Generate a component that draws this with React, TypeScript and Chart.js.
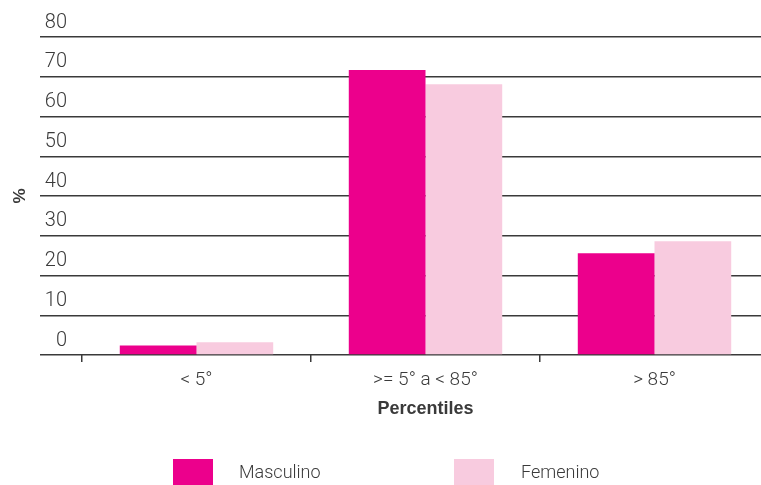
import React, { useEffect, useRef } from "react";
import { Chart, registerables } from "chart.js";

Chart.register(...registerables);

const categories = ["< 5°", ">= 5° a < 85°", "> 85°"];
const masculino = [2.4, 71.7, 25.6];
const femenino = [3.2, 68.1, 28.6];
const seriesNames = ["Masculino", "Femenino"];
const seriesColors = ["#EC008C", "#F8CBDF"];
const yMin = 0;
const yMax = 80;
const yStep = 10;
const xTitle = "Percentiles";
const yTitle = "%";

const LIGHT = "Roboto, 'DejaVu Sans Condensed', sans-serif";
const BOLD = "'Liberation Sans', Arial, sans-serif";
const GRID = "#3a3a3a";
const TEXT = "#3a3a3a";

export default function App() {
  const ref = useRef<HTMLCanvasElement | null>(null);

  useEffect(() => {
    if (!ref.current) return;
    const chart = new Chart(ref.current, {
      type: "bar",
      data: {
        labels: categories,
        datasets: [
          { label: seriesNames[0], data: masculino, backgroundColor: seriesColors[0], borderWidth: 0 },
          { label: seriesNames[1], data: femenino, backgroundColor: seriesColors[1], borderWidth: 0 },
        ],
      },
      options: {
        responsive: false,
        maintainAspectRatio: false,
        animation: false,
        layout: { padding: { top: 37, bottom: 65, left: 0, right: 0 } },
        datasets: { bar: { categoryPercentage: 0.67, barPercentage: 1 } },
        plugins: {
          legend: { display: false },
          tooltip: { enabled: false },
        },
        scales: {
          x: {
            offset: true,
            border: { display: false },
            grid: {
              offset: true,
              drawOnChartArea: false,
              drawTicks: true,
              tickLength: 7,
              color: GRID,
              lineWidth: 1.5,
            },
            ticks: {
              color: TEXT,
              padding: 7,
              font: { family: LIGHT, size: 19, weight: "300" },
              maxRotation: 0,
              autoSkip: false,
            },
            title: {
              display: true,
              text: xTitle,
              color: TEXT,
              padding: 0,
              font: { family: BOLD, size: 18, weight: "bold" },
            },
            afterFit: (s: any) => {
              s.height = 65;
            },
          },
          y: {
            min: yMin,
            max: yMax,
            border: { display: false },
            grid: {
              color: GRID,
              lineWidth: 1.5,
              drawTicks: true,
              tickLength: 42,
            },
            ticks: {
              stepSize: yStep,
              color: TEXT,
              padding: -27,
              labelOffset: -14.5,
              crossAlign: "near",
              font: { family: LIGHT, size: 20, weight: "300" },
            },
            title: {
              display: true,
              text: yTitle,
              color: TEXT,
              padding: { top: 10, bottom: 0 },
              font: { family: BOLD, size: 17, weight: "bold" },
            },
            afterFit: (s: any) => {
              s.width = 82;
            },
          },
        },
      },
    } as any);
    return () => chart.destroy();
  }, []);

  const legendText: React.CSSProperties = {
    position: "absolute",
    top: 459,
    fontFamily: LIGHT,
    fontWeight: 300,
    fontSize: 18,
    lineHeight: "26px",
    color: TEXT,
    whiteSpace: "nowrap",
  };
  const box: React.CSSProperties = { position: "absolute", top: 459, width: 40, height: 30 };

  return (
    <div
      style={{
        position: "fixed",
        left: 0,
        top: 0,
        width: 761,
        height: 485,
        overflow: "hidden",
        background: "#ffffff",
      }}
    >
      <canvas ref={ref} width={769} height={485} style={{ display: "block", width: 769, height: 485 }} />
      <div style={{ ...box, left: 173, background: seriesColors[0] }} />
      <div style={{ ...legendText, left: 239 }}>{seriesNames[0]}</div>
      <div style={{ ...box, left: 454, background: seriesColors[1] }} />
      <div style={{ ...legendText, left: 521 }}>{seriesNames[1]}</div>
    </div>
  );
}
